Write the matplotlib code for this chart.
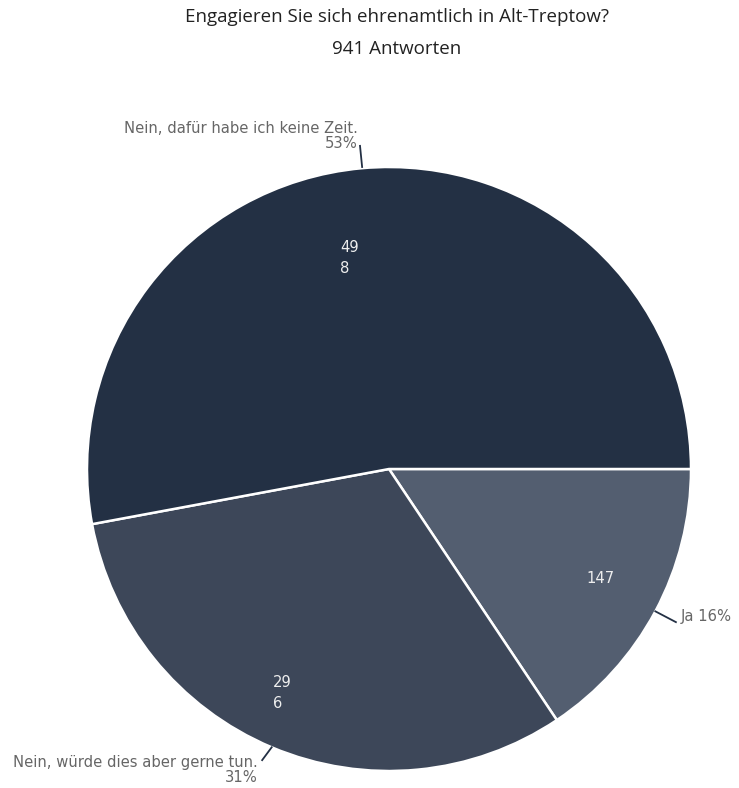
import numpy as np
import matplotlib.pyplot as plt

# data
labels = ["Ja", "Nein, würde dies aber gerne tun.", "Nein, dafür habe ich keine Zeit."]
counts = [147, 296, 498]
inner_txt = ["147", "29\n6", "49\n8"]
pct_txt = ["16%", "31%", "53%"]
colors = ["#535e70", "#3d4759", "#233044"]

fig = plt.figure(figsize=(7.39, 7.88), dpi=100)
fig.text(397/739, 1-17/788, "Engagieren Sie sich ehrenamtlich in Alt-Treptow?",
         ha="center", va="center", fontsize=13.5, family="Open Sans", color="#222222")
fig.text(397/739, 1-49/788, "941 Antworten",
         ha="center", va="center", fontsize=13.5, family="Open Sans", color="#222222")

ax = fig.add_axes([(389-302)/739, (788-469-302)/788, 604/739, 604/788])
wedges, _ = ax.pie(counts, colors=colors, startangle=0, counterclock=False,
                   wedgeprops=dict(edgecolor="white", linewidth=1.8))
ax.set_xlim(-1, 1)
ax.set_ylim(-1, 1)
ax.set_aspect("auto")
ax.axis("off")

lf = "DejaVu Sans"
fs = 10.6
# inside values
ax.text(0.699, -0.361, inner_txt[0], ha="center", va="center", color="#eeeeee", fontsize=fs, family=lf)
ax.text(-0.384, -0.742, inner_txt[1], ha="left", va="center", color="#eeeeee", fontsize=fs, family=lf, linespacing=1.5)
ax.text(-0.162, 0.699, inner_txt[2], ha="left", va="center", color="#eeeeee", fontsize=fs, family=lf, linespacing=1.5)

# outside labels with leader lines
lc = "#233044"
tc = "#666666"
mids = [np.deg2rad((w.theta1 + w.theta2) / 2) for w in wedges]

# Ja
a = mids[0]
ax.plot([np.cos(a), 0.950], [np.sin(a), -0.507], color=lc, lw=1.3, clip_on=False)
ax.text(0.967, -0.490, labels[0] + " " + pct_txt[0], ha="left", va="center", color=tc, fontsize=fs, family=lf)

# Nein, wuerde
a = mids[1]
ax.plot([np.cos(a), -0.42], [np.sin(a), -0.964], color=lc, lw=1.3, clip_on=False)
ax.text(-0.434, -0.996, labels[1] + "\n" + pct_txt[1], ha="right", va="center", multialignment="right",
        color=tc, fontsize=fs, family=lf, linespacing=1.0)

# Nein, dafuer
ax.plot([-0.089, -0.096], [1.0, 1.070], color=lc, lw=1.3, clip_on=False)
ax.text(-0.103, 1.102, labels[2] + "\n" + pct_txt[2], ha="right", va="center", multialignment="right",
        color=tc, fontsize=fs, family=lf, linespacing=1.0)

fig.savefig("out.png", dpi=100)
